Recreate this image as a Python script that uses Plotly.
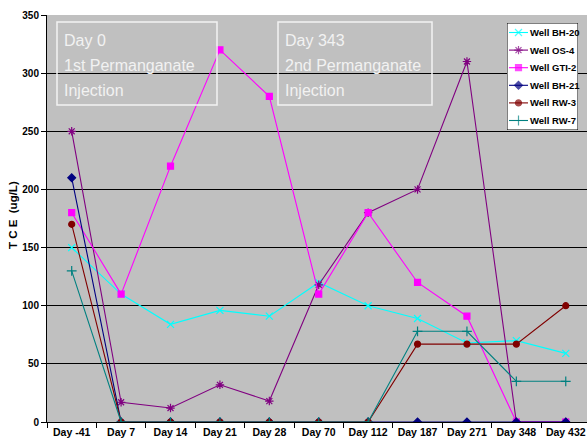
import plotly.graph_objects as go

categories = ["Day -41", "Day 7", "Day 14", "Day 21", "Day 28", "Day 70",
              "Day 112", "Day 187", "Day 271", "Day 348", "Day 432"]
bh20 = [150, 110, 84, 96, 91, 120, 100, 89, 68, 70, 59]
os4 = [250, 17, 12, 32, 18, 118, 180, 200, 310, 0, 0]
gti2 = [180, 110, 220, 320, 280, 110, 180, 120, 91, 0, 0]
bh21 = [210, 0, 0, 0, 0, 0, 0, 0, 0, 0, 0]
rw3 = [170, 0, 0, 0, 0, 0, 0, 67, 67, 67, 100]
rw7 = [130, 0, 0, 0, 0, 0, 0, 78, 78, 35, 35]

series = [
    ("Well BH-20", bh20, "#00FFFF", "x-thin-open", 7),
    ("Well OS-4", os4, "#800080", "asterisk-open", 7),
    ("Well GTI-2", gti2, "#FF00FF", "square", 6),
    ("Well BH-21", bh21, "#000080", "diamond", 6),
    ("Well RW-3", rw3, "#800000", "circle", 6),
    ("Well RW-7", rw7, "#008080", "cross-thin-open", 7),
]

L, T, B = 47, 15, 25
W, H = 587, 447
pw, ph = W - L, H - T - B


def px(x):
    return (x - L) / pw


def py(y):
    return (H - B - y) / ph


fig = go.Figure()
for name, vals, col, sym, sz in series:
    fig.add_trace(go.Scatter(
        x=categories, y=vals, name=name, mode="lines+markers", showlegend=False,
        line=dict(color=col, width=1.1),
        marker=dict(symbol=sym, size=sz, color=col, line=dict(color=col, width=1.2)),
    ))

# custom legend drawn in a small overlay subplot (units = pixels)
LG_X0, LG_X1, LG_Y0, LG_Y1 = 507, 578, 23, 130
lg_w, lg_h = LG_X1 - LG_X0, LG_Y1 - LG_Y0
fig.add_trace(go.Scatter(
    x=[0, lg_w, lg_w, 0, 0], y=[0, 0, lg_h, lg_h, 0], mode="lines",
    fill="toself", fillcolor="white", line=dict(color="black", width=1),
    xaxis="x2", yaxis="y2", showlegend=False, hoverinfo="skip", cliponaxis=False))
row0, row_h = 9.5, 17.6
annotations = []
for i, (name, vals, col, sym, sz) in enumerate(series):
    yy = row0 + i * row_h
    fig.add_trace(go.Scatter(
        x=[2, 11.5, 21], y=[yy, yy, yy], mode="lines+markers",
        line=dict(color=col, width=1.1),
        marker=dict(symbol=sym, size=[0, sz, 0], color=col, line=dict(color=col, width=1.2)),
        xaxis="x2", yaxis="y2", showlegend=False, hoverinfo="skip"))
    annotations.append(dict(xref="paper", yref="paper", x=px(LG_X0 + 21), y=py(LG_Y0 + yy),
                            xanchor="left", yanchor="middle",
                            showarrow=False, text=name,
                            font=dict(family="Liberation Sans, Arial", size=9.5, color="black",
                                      weight="bold")))

shapes = []
boxes = [
    (57, 217, ["Day 0", "1st Permanganate", "Injection"]),
    (278, 432, ["Day 343", "2nd Permanganate", "Injection"]),
]
for x0, x1, lines in boxes:
    shapes.append(dict(type="rect", xref="paper", yref="paper",
                       x0=px(x0), x1=px(x1), y0=py(105), y1=py(22),
                       line=dict(color="#F2F2F2", width=1.5), fillcolor="rgba(0,0,0,0)"))
    for j, txt in enumerate(lines):
        annotations.append(dict(xref="paper", yref="paper", x=px(x0 + 5), y=py(40 + 25 * j),
                                xanchor="left", yanchor="middle", align="left", showarrow=False,
                                text=txt,
                                font=dict(family="Liberation Sans, Arial", size=16,
                                          color="#F2F2F2")))

# y-axis title
annotations.append(dict(xref="paper", yref="paper", x=px(13), y=py(215),
                        xanchor="center", yanchor="middle", textangle=-90, showarrow=False,
                        text="T C E  (ug/L)",
                        font=dict(family="Liberation Sans, Arial", size=11.5, color="black",
                                  weight="bold")))

axfont = dict(family="Liberation Sans, Arial", size=10.5, color="black", weight="bold")
yfont = dict(family="Liberation Sans, Arial", size=10, color="black", weight="bold")
fig.update_layout(
    width=W, height=H,
    margin=dict(l=L, r=0, t=T, b=B),
    paper_bgcolor="white", plot_bgcolor="#C0C0C0",
    font=dict(family="Liberation Sans, Arial", size=11, color="black"),
    shapes=shapes, annotations=annotations,
    showlegend=False,
    xaxis=dict(
        domain=[0, 1], type="category", range=[-0.5, 10.43], showgrid=False,
        showline=True, linecolor="black", linewidth=1, tickangle=0,
        ticks="outside", tickson="boundaries", ticklen=5, tickcolor="black",
        tickfont=axfont, fixedrange=True,
    ),
    yaxis=dict(
        domain=[0, 1], range=[0, 350], dtick=50, showgrid=True, gridcolor="black", gridwidth=1,
        showline=True, linecolor="black", linewidth=1, zeroline=False,
        ticks="outside", ticklen=5, tickcolor="black", tickfont=yfont, fixedrange=True,
    ),
    xaxis2=dict(domain=[px(LG_X0), px(LG_X1)], range=[0, lg_w], visible=False,
                fixedrange=True, anchor="y2"),
    yaxis2=dict(domain=[py(LG_Y1), py(LG_Y0)], range=[lg_h, 0], visible=False,
                fixedrange=True, anchor="x2"),
)

fig.write_html("out.html", config={"displayModeBar": False},
               post_script="document.body.style.margin='0px';document.body.style.overflow='hidden';")
